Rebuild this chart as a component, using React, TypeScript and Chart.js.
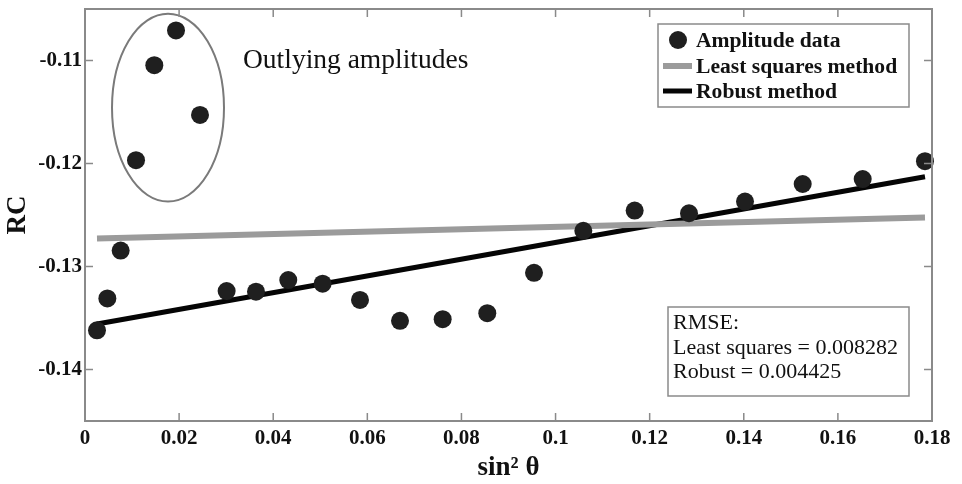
import React, { useEffect, useRef } from "react";
import { Chart, registerables } from "chart.js";

Chart.register(...registerables);

// sin^2(theta) of each trace and its reflection coefficient
const sinSq = [
  0.00255, 0.00475, 0.00758, 0.01084, 0.01473, 0.01934, 0.02444, 0.0301, 0.03634,
  0.0432, 0.0505, 0.05844, 0.06694, 0.07601, 0.08549, 0.09542, 0.1059, 0.11681,
  0.12836, 0.14026, 0.15252, 0.16527, 0.17851,
];
const rc = [
  -0.1362, -0.1331, -0.12845, -0.11968, -0.11045, -0.10708, -0.11528, -0.13238,
  -0.13245, -0.13132, -0.13167, -0.13325, -0.13527, -0.13511, -0.13453, -0.13061,
  -0.12653, -0.12457, -0.12483, -0.1237, -0.12199, -0.12151, -0.11977,
];

// fitted lines, evaluated at the first and last sin^2 value
const fitX = [0.00255, 0.17851];
const leastSquaresFit = [-0.12727, -0.12524];
const robustFit = [-0.13559, -0.12129];

const xTicks = [0, 0.02, 0.04, 0.06, 0.08, 0.1, 0.12, 0.14, 0.16, 0.18];
const xTickLabels = ["0", "0.02", "0.04", "0.06", "0.08", "0.1", "0.12", "0.14", "0.16", "0.18"];
const yTicks = [-0.14, -0.13, -0.12, -0.11];
const yTickLabels = ["-0.14", "-0.13", "-0.12", "-0.11"];

const seriesLabels = ["Amplitude data", "Least squares method", "Robust method"];
const rmseLines = ["RMSE:", "Least squares = 0.008282", "Robust = 0.004425"];
const outlierNote = "Outlying amplitudes";
// ellipse around the outliers: centre and half-axes in data units
const outlierEllipse = { x: 0.01764, y: -0.11458, rx: 0.0119, ry: 0.00912 };

const SERIF = "'Liberation Serif', 'Times New Roman', serif";
const AXIS_GREY = "#8a8a8a";
const POINT_COLOR = "#1f1f1f";
const LS_COLOR = "#9b9b9b";
const ROBUST_COLOR = "#050505";

const decorations = {
  id: "decorations",
  beforeDatasetsDraw(chart: any) {
    const { ctx, scales } = chart;
    const xs = scales.x;
    const ys = scales.y;
    ctx.save();
    // ellipse around the outlying amplitudes
    const cx = xs.getPixelForValue(outlierEllipse.x);
    const cy = ys.getPixelForValue(outlierEllipse.y);
    const rx = Math.abs(xs.getPixelForValue(outlierEllipse.x + outlierEllipse.rx) - cx);
    const ry = Math.abs(ys.getPixelForValue(outlierEllipse.y + outlierEllipse.ry) - cy);
    ctx.strokeStyle = "#7a7a7a";
    ctx.lineWidth = 2;
    ctx.beginPath();
    ctx.ellipse(cx, cy, rx, ry, 0, 0, Math.PI * 2);
    ctx.stroke();

    ctx.fillStyle = "#111";
    ctx.font = `27.5px ${SERIF}`;
    ctx.textBaseline = "middle";
    ctx.textAlign = "left";
    ctx.fillText(outlierNote, 243, 61);
    ctx.restore();
  },
  afterDraw(chart: any) {
    const { ctx, chartArea: a, scales } = chart;
    const xs = scales.x;
    const ys = scales.y;
    ctx.save();
    // box frame
    ctx.strokeStyle = AXIS_GREY;
    ctx.lineWidth = 2;
    ctx.strokeRect(a.left, a.top, a.right - a.left, a.bottom - a.top);
    // inward ticks on all four sides
    const tl = 8;
    ctx.lineWidth = 1.5;
    ctx.beginPath();
    xTicks.forEach((v) => {
      const px = xs.getPixelForValue(v);
      ctx.moveTo(px, a.bottom);
      ctx.lineTo(px, a.bottom - tl);
      ctx.moveTo(px, a.top);
      ctx.lineTo(px, a.top + tl);
    });
    yTicks.forEach((v) => {
      const py = ys.getPixelForValue(v);
      ctx.moveTo(a.left, py);
      ctx.lineTo(a.left + tl, py);
      ctx.moveTo(a.right, py);
      ctx.lineTo(a.right - tl, py);
    });
    ctx.stroke();

    // legend
    const lx = 658, ly = 24, lw = 251, lh = 83;
    ctx.fillStyle = "#fff";
    ctx.fillRect(lx, ly, lw, lh);
    ctx.strokeStyle = AXIS_GREY;
    ctx.lineWidth = 1.5;
    ctx.strokeRect(lx, ly, lw, lh);
    const rows = [40, 66, 91];
    const ds = chart.data.datasets;
    ctx.fillStyle = POINT_COLOR;
    ctx.beginPath();
    ctx.arc(678, rows[0], 9, 0, Math.PI * 2);
    ctx.fill();
    ctx.lineCap = "butt";
    ctx.strokeStyle = LS_COLOR;
    ctx.lineWidth = 6;
    ctx.beginPath();
    ctx.moveTo(663, rows[1]);
    ctx.lineTo(692, rows[1]);
    ctx.stroke();
    ctx.strokeStyle = ROBUST_COLOR;
    ctx.lineWidth = 5;
    ctx.beginPath();
    ctx.moveTo(663, rows[2]);
    ctx.lineTo(692, rows[2]);
    ctx.stroke();
    ctx.fillStyle = "#111";
    ctx.font = `bold 21.6px ${SERIF}`;
    ctx.textBaseline = "middle";
    ctx.textAlign = "left";
    ds.forEach((d: any, i: number) => ctx.fillText(d.label, 696, rows[i] + 1));

    // RMSE box
    const bx = 668, by = 307, bw = 241, bh = 89;
    ctx.fillStyle = "#fff";
    ctx.fillRect(bx, by, bw, bh);
    ctx.strokeStyle = AXIS_GREY;
    ctx.lineWidth = 1.5;
    ctx.strokeRect(bx, by, bw, bh);
    ctx.fillStyle = "#111";
    ctx.font = `22px ${SERIF}`;
    const bRows = [323, 348, 372];
    rmseLines.forEach((t, i) => ctx.fillText(t, 673, bRows[i]));
    ctx.restore();
  },
};

export default function App() {
  const ref = useRef<HTMLCanvasElement | null>(null);

  useEffect(() => {
    document.body.style.margin = "0";
    const canvas = ref.current;
    if (!canvas) return;
    const chart = new Chart(canvas, {
      type: "scatter",
      data: {
        datasets: [
          {
            label: seriesLabels[0],
            data: sinSq.map((x, i) => ({ x, y: rc[i] })),
            backgroundColor: POINT_COLOR,
            borderColor: POINT_COLOR,
            pointRadius: 9,
            pointHoverRadius: 9,
            borderWidth: 0,
            showLine: false,
            clip: false,
          },
          {
            type: "line",
            label: seriesLabels[1],
            data: fitX.map((x, i) => ({ x, y: leastSquaresFit[i] })),
            borderColor: LS_COLOR,
            borderWidth: 6,
            pointRadius: 0,
            fill: false,
          },
          {
            type: "line",
            label: seriesLabels[2],
            data: fitX.map((x, i) => ({ x, y: robustFit[i] })),
            borderColor: ROBUST_COLOR,
            borderWidth: 5,
            pointRadius: 0,
            fill: false,
          },
        ],
      } as any,
      options: {
        responsive: false,
        animation: false,
        layout: { padding: { top: 4, right: 30, left: 0, bottom: 0 } },
        plugins: {
          legend: { display: false },
          tooltip: { enabled: false },
        },
        scales: {
          x: {
            type: "linear",
            min: 0,
            max: 0.18,
            grid: { display: false, drawTicks: false },
            border: { display: false },
            afterBuildTicks: (s: any) => {
              s.ticks = xTicks.map((value) => ({ value }));
            },
            afterFit: (s: any) => {
              s.height = 63;
              s.paddingLeft = 0;
              s.paddingRight = 0;
            },
            ticks: {
              autoSkip: false,
              maxRotation: 0,
              padding: 5,
              color: "#111",
              font: { family: SERIF, size: 21, weight: "bold" },
              callback: (_v: any, i: number) => xTickLabels[i],
            },
            title: {
              display: true,
              text: "sin\u00b2 \u03b8",
              color: "#111",
              font: { family: SERIF, size: 27, weight: "bold" },
              padding: { top: 0, bottom: 0 },
            },
          },
          y: {
            type: "linear",
            min: -0.145,
            max: -0.105,
            grid: { display: false, drawTicks: false },
            border: { display: false },
            afterBuildTicks: (s: any) => {
              s.ticks = yTicks.map((value) => ({ value }));
            },
            afterFit: (s: any) => {
              s.width = 85;
              s.paddingTop = 0;
              s.paddingBottom = 0;
            },
            ticks: {
              autoSkip: false,
              padding: 3,
              color: "#111",
              font: { family: SERIF, size: 21, weight: "bold" },
              callback: (_v: any, i: number) => yTickLabels[i],
            },
            title: {
              display: true,
              text: "RC",
              color: "#111",
              font: { family: SERIF, size: 27, weight: "bold" },
              padding: { top: 2, bottom: 0 },
            },
          },
        },
      } as any,
      plugins: [decorations],
    });
    return () => chart.destroy();
  }, []);

  return (
    <div style={{ position: "fixed", left: 0, top: 0, width: 962, height: 484, background: "#fff" }}>
      <canvas ref={ref} width={962} height={484} style={{ width: 962, height: 484 }} />
    </div>
  );
}
